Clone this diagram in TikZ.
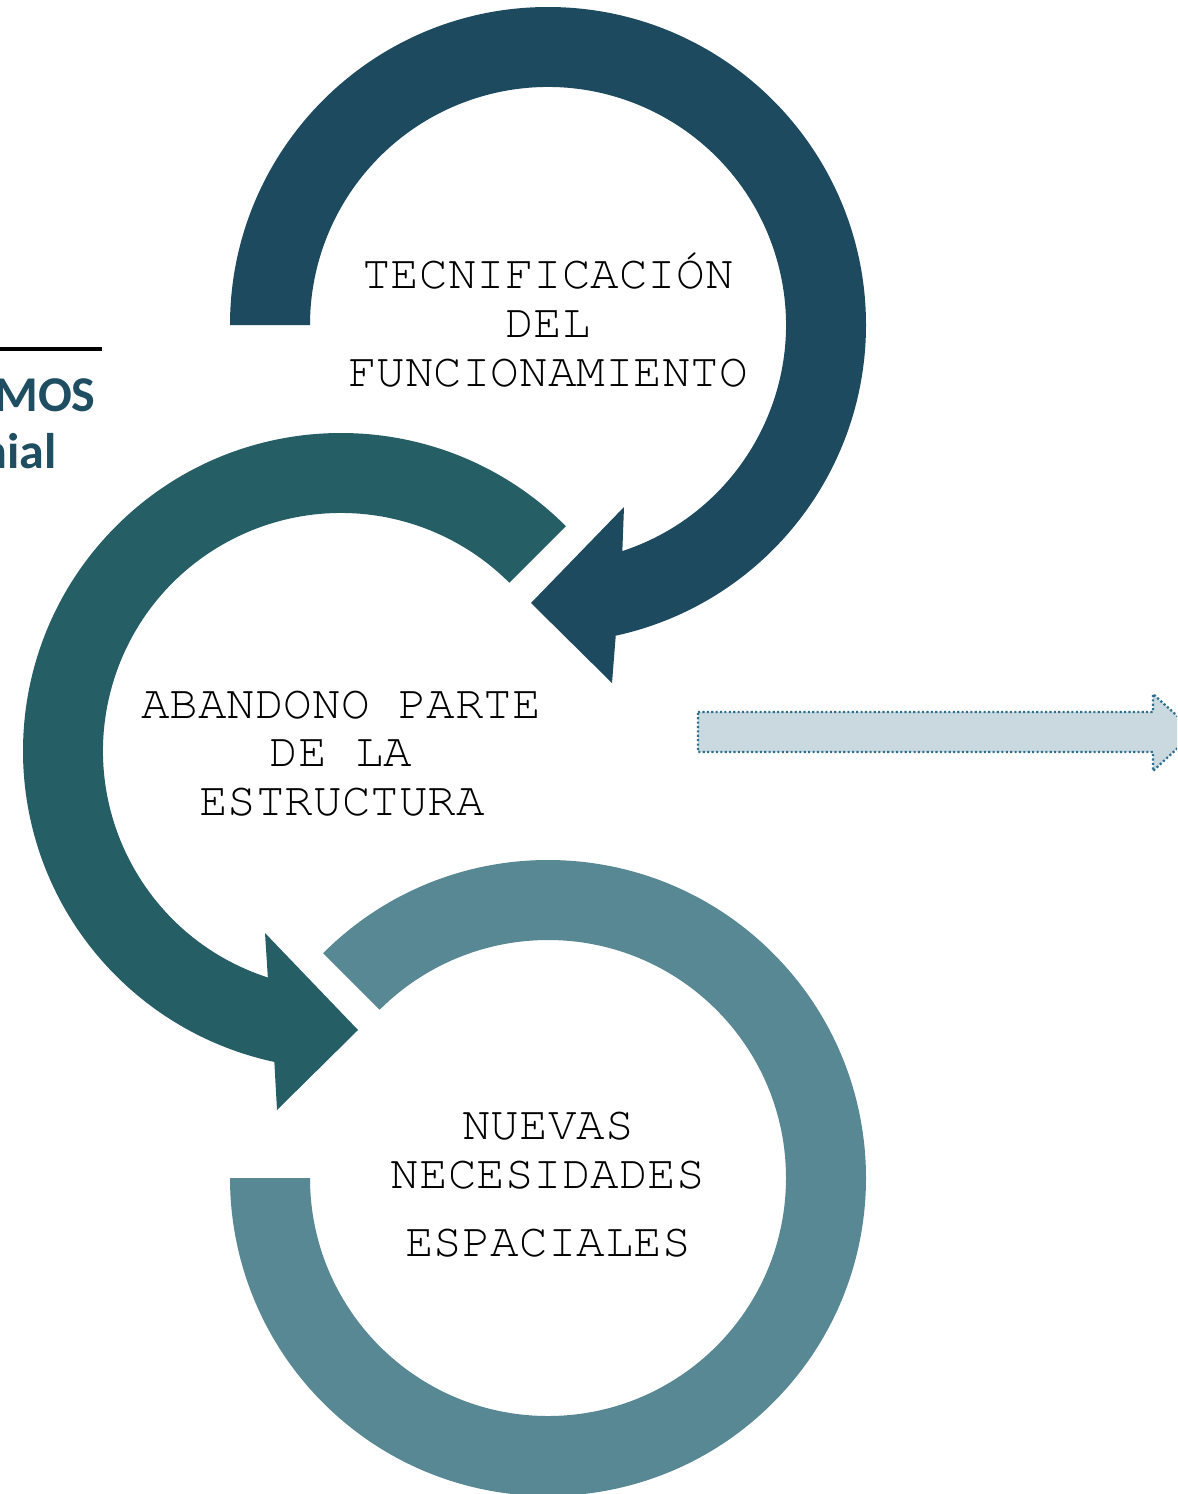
\documentclass[tikz,border=0pt]{standalone}
\usepackage{fontspec}
\setmainfont{Liberation Serif}
\newfontfamily\monofont{TeX Gyre Cursor}
\newfontfamily\calfont{Carlito}
\definecolor{topc}{HTML}{1D4A5E}
\definecolor{midc}{HTML}{265E66}
\definecolor{botc}{HTML}{588893}
\definecolor{titc}{HTML}{1F4E63}
\definecolor{arrfill}{HTML}{C9D9DF}
\definecolor{arrline}{HTML}{2E6F8E}
\begin{document}
\begin{tikzpicture}[x=0.02cm,y=-0.02cm,
  mono/.style={font=\monofont\fontsize{27.1}{32}\selectfont, inner sep=0pt, anchor=base},
  lefttxt/.style={font=\calfont\bfseries\fontsize{28.5}{34}\selectfont, text=titc, inner sep=0pt, anchor=base east}]
\useasboundingbox (0,0) rectangle (1177,1494);
\clip (0,0) rectangle (1177,1494);
% centres
\coordinate (c1) at (548,325);
\coordinate (c2) at (341,751);
\coordinate (c3) at (548,1178);
% top ring with arrowhead
\fill[topc] (c1) ++(180:318) arc[start angle=180, end angle=437.7, radius=318]
  -- (612,683) -- (531,603) -- (624,507)
  -- ([shift={(431.8:238)}]c1) arc[start angle=431.8, end angle=180, radius=238] -- cycle;
% middle ring with arrowhead
\fill[midc] (c2) ++(-45:318) arc[start angle=-45, end angle=-257.9, radius=318]
  -- (277,1110) -- (358,1030) -- (265,933)
  -- ([shift={(-252.1:238)}]c2) arc[start angle=-252.1, end angle=-45, radius=238] -- cycle;
% bottom ring
\fill[botc] (c3) ++(225:318) arc[start angle=225, end angle=540, radius=318]
  -- ([shift={(540:238)}]c3) arc[start angle=540, end angle=225, radius=238] -- cycle;
% texts
\node[mono] (t1) at (548,288) {TECNIFICACIÓN};
\node[mono] (t2) at (548,337) {DEL};
\node[mono] (t3) at (548,386) {FUNCIONAMIENTO};
\node[mono] (m1) at (341,718) {ABANDONO PARTE};
\node[mono] (m2) at (341,766) {DE LA};
\node[mono] (m3) at (342,815) {ESTRUCTURA};
\node[mono] (b1) at (548,1139) {NUEVAS};
\node[mono] (b2) at (548,1188) {NECESIDADES};
\node[mono] (b3) at (548,1256) {ESPACIALES};
% right dotted arrow
\filldraw[fill=arrfill, draw=arrline, line width=1.3pt, dash pattern=on 1.2pt off 1.3pt]
  (698,712) -- (1153,712) -- (1153,694) -- (1195,732) -- (1153,771) -- (1153,752) -- (698,752) -- cycle;
% left cut-off title
\coordinate (l1) at (0,349);
\coordinate (l2) at (102,349);
\draw[black, line width=2.3pt] (l1) -- (l2);
\node[lefttxt] (lt1) at (96,411) {MOS};
\node[lefttxt] (lt2) at (57,468) {nial};
\end{tikzpicture}
\end{document}
